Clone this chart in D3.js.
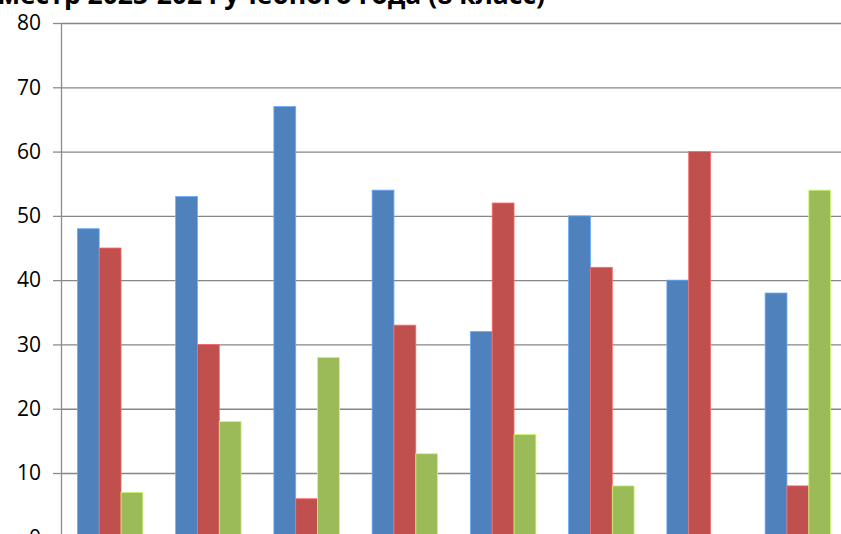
<!DOCTYPE html>
<html>
<head>
<meta charset="utf-8">
<script src="https://cdn.jsdelivr.net/npm/d3@7"></script>
<style>
  body { margin: 0; background: #fff; overflow: hidden; }
  svg { display: block; }
  .grid line { stroke: #868686; stroke-width: 1.3; }
  .grid path { display: none; }
  .y-axis path, .y-axis line { stroke: #8c8c8c; stroke-width: 1.3; }
  .y-axis text { font-family: 'Open Sans', sans-serif; font-size: 21px; fill: #000; }
  .title { font-family: 'Open Sans', sans-serif; font-size: 26.5px; font-weight: bold; fill: #000; }
</style>
</head>
<body>
<div id="chart"></div>
<script>
const categories = ['1', '2', '3', '4', '5', '6', '7', '8'];
const seriesNames = ['Ряд 1', 'Ряд 2', 'Ряд 3'];
const blueValues = [48, 53, 67, 54, 32, 50, 40, 38];
const redValues = [45, 30, 6, 33, 52, 42, 60, 8];
const greenValues = [7, 18, 28, 13, 16, 8, 0, 54];
const yTicks = [0, 10, 20, 30, 40, 50, 60, 70, 80];
const colors = ['#4F81BD', '#C0504D', '#9BBB59'];
const titleText = 'семестр 2023-2024 учебного года (8 класс)';

const width = 841;
const height = 534;
const plotLeft = 61;
const plotRight = 847;
const plotTop = 23;
const plotBottom = 537.3;

const series = [blueValues, redValues, greenValues];

const svg = d3.select('#chart')
  .append('svg')
  .attr('width', width)
  .attr('height', height);

// bands with 150% gap width, like the office chart
const band = d3.scaleBand()
  .domain(categories)
  .range([plotLeft, plotRight]);

const inner = d3.scaleBand()
  .domain(seriesNames)
  .range([0, band.bandwidth() * 3 / 4.5])
  .padding(0);

const yScale = d3.scaleLinear()
  .domain([0, 80])
  .range([plotBottom, plotTop]);

svg.append('g')
  .attr('class', 'grid')
  .attr('transform', `translate(${plotLeft}, 0)`)
  .call(d3.axisLeft(yScale).tickValues(yTicks).tickSize(-(plotRight - plotLeft)).tickFormat(''));

const groupOffset = band.bandwidth() * 0.75 / 4.5;

seriesNames.forEach((name, si) => {
  svg.append('g')
    .selectAll('rect')
    .data(series[si])
    .enter()
    .append('rect')
    .attr('x', (d, i) => band(categories[i]) + groupOffset + inner(name))
    .attr('y', d => yScale(d))
    .attr('width', inner.bandwidth())
    .attr('height', d => yScale(0) - yScale(d))
    .attr('fill', colors[si])
    .attr('stroke', d3.color(colors[si]).brighter(0.8))
    .attr('stroke-width', 0.8)
    .style('display', d => (d > 0 ? null : 'none'));
});

svg.append('g')
  .attr('class', 'y-axis')
  .attr('transform', `translate(${plotLeft}, 0)`)
  .call(d3.axisLeft(yScale).tickValues(yTicks).tickSize(8).tickPadding(12).tickSizeOuter(0));

svg.append('text')
  .attr('class', 'title')
  .attr('x', 545)
  .attr('y', 4)
  .attr('text-anchor', 'end')
  .text(titleText);
</script>
</body>
</html>
